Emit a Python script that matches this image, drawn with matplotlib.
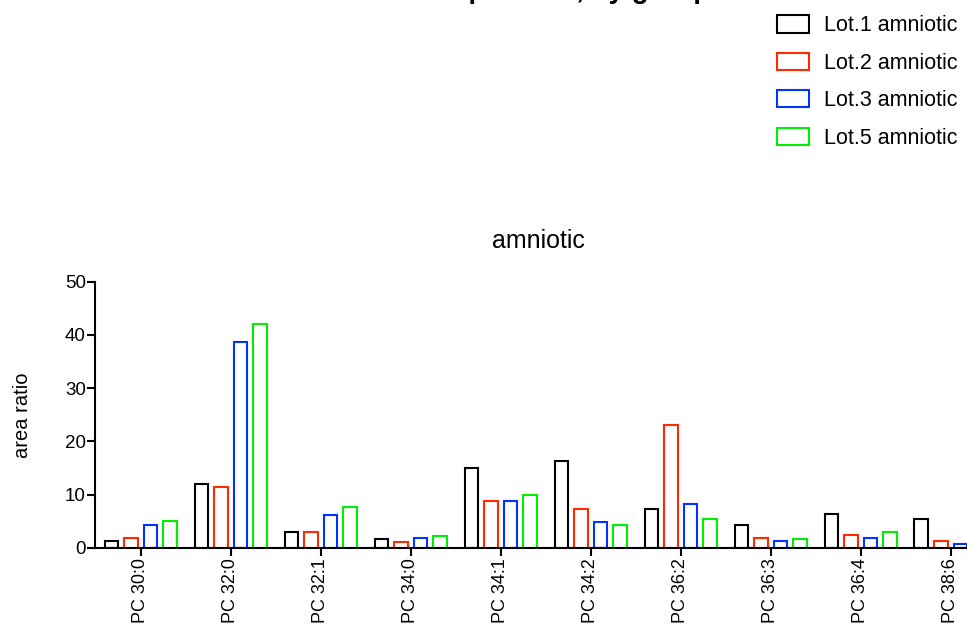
import matplotlib
matplotlib.use("Agg")
import matplotlib.pyplot as plt
from matplotlib.patches import Patch
import numpy as np

plt.rcParams['font.family'] = ['Liberation Sans', 'DejaVu Sans']

categories = ["PC 30:0", "PC 32:0", "PC 32:1", "PC 34:0", "PC 34:1",
              "PC 34:2", "PC 36:2", "PC 36:3", "PC 36:4", "PC 38:6"]
series_names = ["Lot.1 amniotic", "Lot.2 amniotic", "Lot.3 amniotic", "Lot.5 amniotic"]
lot1 = [1.4, 12.1, 3.0, 1.6, 15.0, 16.4, 7.4, 4.4, 6.3, 5.5]
lot2 = [1.8, 11.5, 3.0, 1.2, 8.8, 7.4, 23.1, 1.8, 2.5, 1.3]
lot3 = [4.4, 38.7, 6.1, 1.8, 8.8, 4.9, 8.3, 1.4, 1.8, 0.8]
lot5 = [5.0, 42.0, 7.6, 2.2, 9.9, 4.4, 5.5, 1.6, 3.0, 1.0]
colors = ["#000000", "#FF2A00", "#0033FF", "#00EE00"]

fig = plt.figure(figsize=(9.67, 6.3), dpi=100)
W, H = 967, 630
ax = fig.add_axes([95 / W, (H - 548) / H, (995.5 - 95) / W, (548 - 281.5) / H])

x = np.arange(len(categories))
offsets = [-1.5, -0.5, 0.5, 1.5]
step = 0.2167
width = 0.15
for vals, c, off in zip([lot1, lot2, lot3, lot5], colors, offsets):
    ax.bar(x + off * step, vals, width=width, facecolor='white', edgecolor=c, linewidth=1.5)

ax.set_xlim(-0.506, 9.5)
ax.set_ylim(0, 50)
ax.set_yticks([0, 10, 20, 30, 40, 50])
ax.set_xticks(x)
ax.set_xticklabels(categories, rotation=90, fontsize=13)
ax.tick_params(axis='y', labelsize=13.5, width=1.5, length=5.5, direction='out', pad=1)
ax.tick_params(axis='x', width=1.5, length=5.5, direction='out', pad=2)
for s in ['top', 'right']:
    ax.spines[s].set_visible(False)
for s in ['left', 'bottom']:
    ax.spines[s].set_linewidth(1.5)
ax.set_ylabel("area ratio", fontsize=14.5, labelpad=24)

fig.text(538 / W, 1 - 241 / H, "amniotic", fontsize=18, ha='center', va='center')

handles = [Patch(facecolor='white', edgecolor=c, linewidth=1.5) for c in colors]
fig.legend(handles, series_names, loc='upper left', bbox_to_anchor=(771 / W, 1 - 9 / H),
           frameon=False, fontsize=15.5, handlelength=1.45, handleheight=0.84,
           labelspacing=0.76, handletextpad=0.7, borderaxespad=0, borderpad=0.3)

fig.text(538 / W, 1 + 1.5 / H, "PC composition, by group", fontsize=20, fontweight='bold',
         ha='center', va='baseline')

fig.savefig("out.png", dpi=100)
